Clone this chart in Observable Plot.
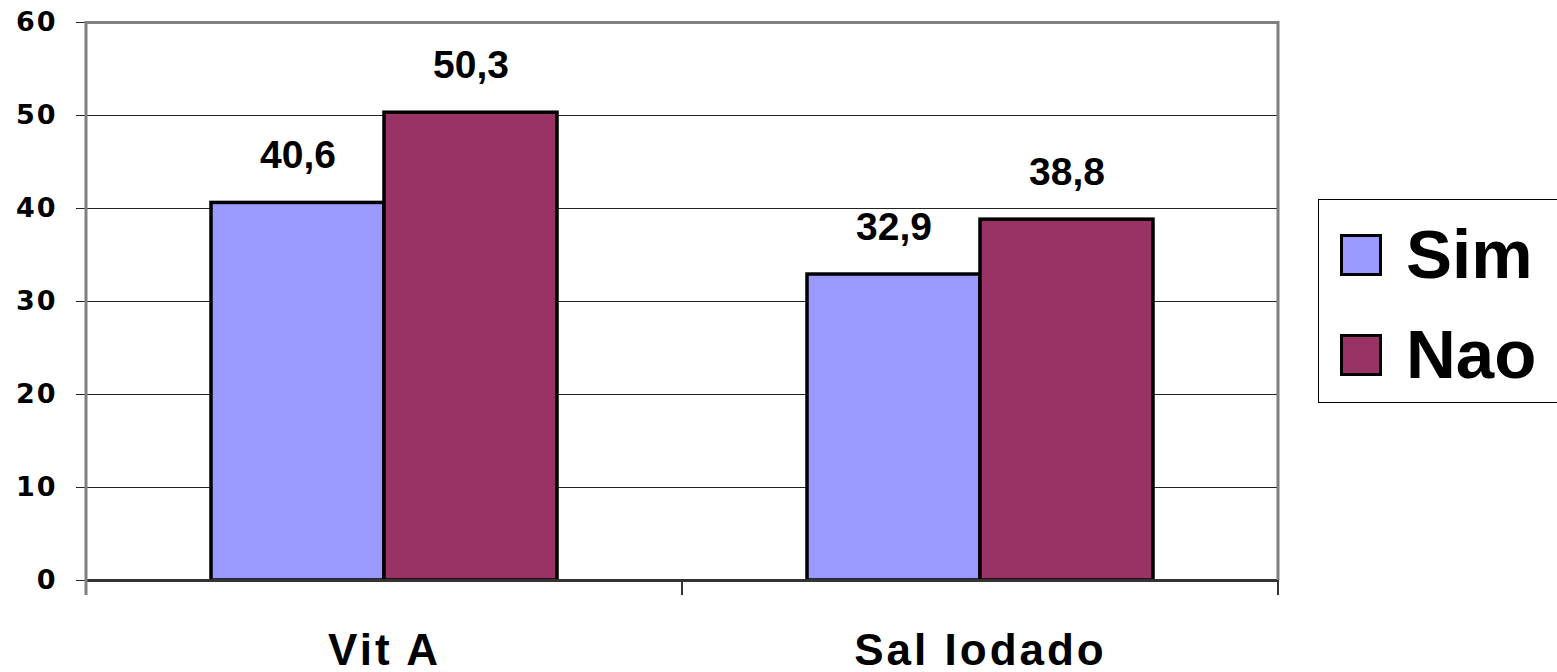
<!DOCTYPE html>
<html>
<head>
<meta charset="utf-8">
<script src="https://cdn.jsdelivr.net/npm/d3@7"></script>
<script src="https://cdn.jsdelivr.net/npm/@observablehq/plot@0.6"></script>
<style>
  html, body { margin: 0; padding: 0; background: #fff; overflow: hidden; }
  #wrap { position: relative; width: 1557px; height: 672px; }
  #legend { position: absolute; left: 1318px; top: 199px; width: 260px; height: 204px;
            border: 1px solid #000; box-sizing: border-box; background: #fff; }
  .item { position: absolute; left: 21px; display: flex; align-items: center; }
  .sw { width: 42px; height: 42px; border: 3px solid #000; box-sizing: border-box; }
  .lab { margin-left: 24px; font: bold 69px "Liberation Sans", Arial, sans-serif; color: #000; line-height: 1; }
  .fxlab text { letter-spacing: 3px; }
  .ylab text { letter-spacing: 2px; font-weight: 900; }
</style>
</head>
<body>
<div id="wrap"></div>
<script>
const categories = ["Vit A", "Sal Iodado"];
const series = ["Sim", "Nao"];
const simValues = [40.6, 32.9];
const naoValues = [50.3, 38.8];
const yTicks = [0, 10, 20, 30, 40, 50, 60];
const colors = ["#9999FF", "#993366"];

const data = categories.flatMap((c, i) => [
  {category: c, series: "Sim", value: simValues[i]},
  {category: c, series: "Nao", value: naoValues[i]}
]);

const chart = Plot.plot({
  width: 1557, height: 672,
  marginLeft: 86, marginRight: 279, marginTop: 22, marginBottom: 92,
  style: {fontFamily: "'Liberation Sans', Arial, sans-serif", background: "white", overflow: "visible", color: "black"},
  fx: {domain: categories, padding: 0, label: null, axis: null},
  x: {domain: series, paddingInner: 0, paddingOuter: 0.72, axis: null},
  y: {domain: [0, 60], axis: null},
  color: {domain: series, range: colors},
  marks: [
    Plot.ruleY(yTicks.filter(t => t > 0 && t < 60), {stroke: "#222", strokeWidth: 1}),
    Plot.ruleY([60], {stroke: "#808080", strokeWidth: 3}),
    Plot.barY(data, {fx: "category", x: "series", y: "value", fill: "series", stroke: "black", strokeWidth: 3.5}),
    Plot.text(data, {fx: "category", x: "series", y: "value",
      text: d => d.value.toFixed(1).replace(".", ","),
      dy: -35, lineAnchor: "bottom", fontSize: 39, fontWeight: "bold", fill: "black"}),
    Plot.ruleY([0], {stroke: "#333", strokeWidth: 3}),
    Plot.axisFx({anchor: "bottom", tickSize: 0, tickPadding: 53, fontSize: 44, fontWeight: "bold", label: null, className: "fxlab"}),
    Plot.axisY({ticks: yTicks, tickSize: 10, tickPadding: 19, fontSize: 27, fontWeight: "bold",
      fontFamily: "'DejaVu Sans', sans-serif", stroke: "#222", label: null, className: "ylab", tickFormat: d => String(d)})
  ]
});

document.getElementById("wrap").appendChild(chart);

// Axis line, right border and category boundary ticks from the plot's own scales
const fxS = chart.scale("fx");
const yS = chart.scale("y");
const y0 = yS.apply(0), y60 = yS.apply(60);
const left = fxS.apply(categories[0]);
const right = fxS.apply(categories[categories.length - 1]) + fxS.bandwidth;
const svg = d3.select(chart);
const g = svg.append("g");
g.append("line").attr("x1", left).attr("x2", left).attr("y1", y60 - 1).attr("y2", y0 + 15)
  .attr("stroke", "#808080").attr("stroke-width", 3);
g.append("line").attr("x1", right).attr("x2", right).attr("y1", y60 - 1).attr("y2", y0)
  .attr("stroke", "#808080").attr("stroke-width", 3);
const bounds = categories.map(c => fxS.apply(c)).concat([right]);
g.selectAll(".bt").data(bounds.slice(1)).join("line")
  .attr("x1", d => d).attr("x2", d => d).attr("y1", y0).attr("y2", y0 + 15)
  .attr("stroke", "#333").attr("stroke-width", 2);

// Legend
const legend = document.createElement("div");
legend.id = "legend";
series.forEach((s, i) => {
  const it = document.createElement("div");
  it.className = "item";
  it.style.top = (20 + i * 100) + "px";
  it.innerHTML = `<div class="sw" style="background:${colors[i]}"></div><div class="lab">${s}</div>`;
  legend.appendChild(it);
});
document.getElementById("wrap").appendChild(legend);
</script>
</body>
</html>
